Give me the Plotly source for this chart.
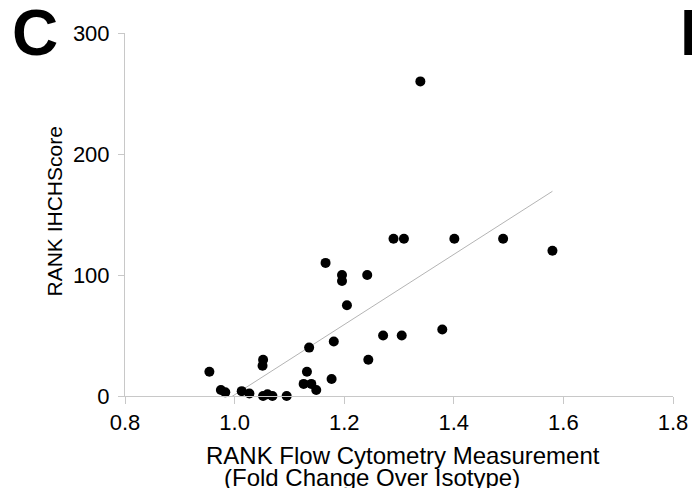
import plotly.graph_objects as go

# Data
flow_fold_change = [0.954, 0.975, 0.983, 1.013, 1.027, 1.052, 1.051, 1.052, 1.060, 1.069,
                    1.095, 1.126, 1.132, 1.136, 1.140, 1.149, 1.177, 1.181, 1.244, 1.271,
                    1.166, 1.196, 1.196, 1.242, 1.205, 1.290, 1.309, 1.401, 1.490, 1.580,
                    1.305, 1.379, 1.339]
ihc_hscore = [20, 5, 3, 4, 2, 30, 25, 0, 1.5, 0,
              0, 10, 20, 40, 10, 5, 14, 45, 30, 50,
              110, 100, 95, 100, 75, 130, 130, 130, 130, 120,
              50, 55, 260]
trend_slope = 290.0
trend_intercept = -289.0
x_ticks = [0.8, 1.0, 1.2, 1.4, 1.6, 1.8]
y_ticks = [0, 100, 200, 300]

W, H = 700, 488
OFF = 8  # default page body margin
L, R, T, B = 125, 23, 33, 92
PW, PH = W - L - R, H - T - B


def px(x):
    return (x - L) / PW


def py(y):
    return (H - B - y) / PH


trend_x = [min(flow_fold_change), max(flow_fold_change)]
trend_y = [trend_slope * v + trend_intercept for v in trend_x]

fig = go.Figure()
fig.add_trace(go.Scatter(x=trend_x, y=trend_y, mode="lines",
                         line=dict(color="#b4b4b4", width=1),
                         hoverinfo="skip", showlegend=False))
fig.add_trace(go.Scatter(x=flow_fold_change, y=ihc_hscore, mode="markers",
                         marker=dict(color="black", size=10, line=dict(width=0)),
                         cliponaxis=False, showlegend=False))

axis_common = dict(showgrid=False, zeroline=False, showline=True,
                   linecolor="#c8c8c8", linewidth=1, ticks="outside",
                   tickcolor="#c8c8c8", tickwidth=1,
                   tickfont=dict(family="Liberation Sans, Arial", size=22, color="black"))
fig.update_xaxes(range=[0.8, 1.8], tickvals=x_ticks,
                 ticktext=[f"{v:.1f}" for v in x_ticks], ticklen=7,
                 ticklabelstandoff=0, **axis_common)
fig.update_yaxes(range=[0, 300], tickvals=y_ticks,
                 ticktext=[str(v) for v in y_ticks], ticklen=6,
                 ticklabelstandoff=4, **axis_common)

font_title = "Liberation Sans, Arial"
annotations = [
    dict(text="<b>C</b>", x=px(34), y=py(33), font=dict(family=font_title, size=64, color="black"),
         xanchor="center", yanchor="middle"),
    dict(text="<b>E</b>", x=px(682), y=py(33), font=dict(family=font_title, size=64, color="black"),
         xanchor="left", yanchor="middle"),
    dict(text="RANK IHCHScore", x=px(53), y=py(212), textangle=-90,
         font=dict(family=font_title, size=21, color="black"),
         xanchor="center", yanchor="middle"),
    dict(text="RANK Flow Cytometry Measurement", x=px(405), y=py(456),
         font=dict(family=font_title, size=24, color="black"),
         xanchor="center", yanchor="middle"),
    dict(text="(Fold Change Over Isotype)", x=px(374), y=py(477),
         font=dict(family=font_title, size=24, color="black"),
         xanchor="center", yanchor="middle"),
]
for a in annotations:
    a.update(xref="paper", yref="paper", showarrow=False)

fig.update_layout(width=W - OFF, height=H - OFF,
                  margin=dict(l=L - OFF, r=R, t=T - OFF, b=B),
                  paper_bgcolor="white", plot_bgcolor="white",
                  annotations=annotations, showlegend=False)
fig.write_html("out.html")
